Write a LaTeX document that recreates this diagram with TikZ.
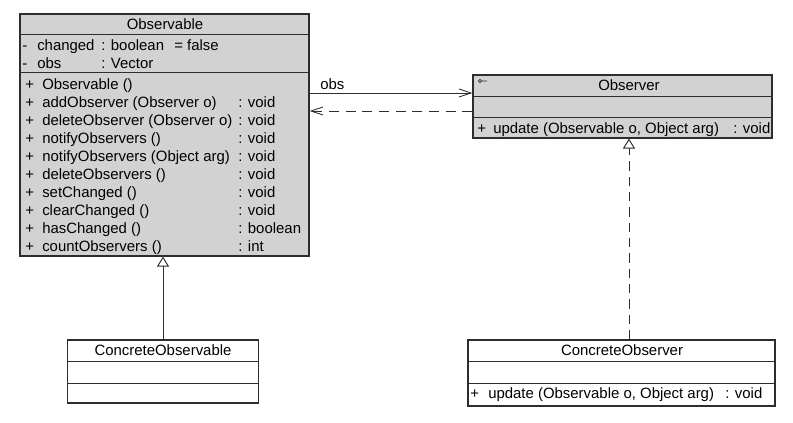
\documentclass[tikz,border=0pt]{standalone}
\usepackage{fontspec}
\setmainfont{Liberation Sans}
\usepackage{xcolor}
\definecolor{umlGray}{RGB}{210,210,210}
\definecolor{umlLine}{RGB}{45,45,45}
\usepackage{tikz}
\usetikzlibrary{positioning,arrows.meta,calc}
\tikzset{
  classbox/.style={rectangle,draw=umlLine,fill=umlGray,line width=0.8pt,
    inner sep=0pt},
  concretebox/.style={classbox,fill=white},
  member/.style={anchor=mid west,inner sep=0pt,text=black,yshift=-1.5pt,
    font=\fontsize{11.2}{13}\selectfont},
  title/.style={member,anchor=mid},
  compline/.style={draw=umlLine,line width=0.7pt},
  assoc/.style={-{Straight Barb[length=9pt,width=6pt]},draw=umlLine,line width=0.7pt},
  depend/.style={assoc,dash pattern=on 7.5pt off 5pt},
  inherit/.style={-{Triangle[open,length=7.5pt,width=9pt,fill=white]},
    draw=umlLine,line width=0.7pt},
  realize/.style={inherit,dash pattern=on 7pt off 4.5pt}
}
\newcommand{\vis}[1]{\makebox[12.75pt][l]{#1}}

\begin{document}
\begin{tikzpicture}[x=0.75pt,y=-0.75pt]
  \useasboundingbox (0,0) rectangle (793,422);

  % class boxes
  \node[classbox, minimum width=216.75pt, minimum height=181.5pt] (obsv) at (164.5,135) {};
  \node[classbox, minimum width=224.25pt, minimum height=47.25pt] (obsr) at (622.5,106.5) {};
  \node[concretebox, minimum width=143.25pt, minimum height=47.25pt] (cobsv) at (163,371.5) {};
  \node[concretebox, minimum width=230.25pt, minimum height=49.5pt] (cobsr) at (621.5,373) {};

  % compartments
  \foreach \cls/\ya/\yb in {obsv/34/72, obsr/96/117, cobsv/361/383, cobsr/361/383} {
    \draw[compline] (\cls.west |- 0,\ya) -- (\cls.east |- 0,\ya);
    \draw[compline] (\cls.west |- 0,\yb) -- (\cls.east |- 0,\yb);
  }

  % Observable
  \node[title] (obsvname) at (165,24) {Observable};
  \node[member] (attchg) at (22,45) {\makebox[11.25pt][l]{-}changed};
  \node[member] (attchgt) at (101,45) {: boolean};
  \node[member] (attchgv) at (174,45) {= false};
  \node[member] (attobs) at (22,63) {\makebox[11.25pt][l]{-}obs};
  \node[member] (attobst) at (101,63) {: Vector};
  \node[member] (op0) at (25,84) {\vis{+}Observable ()};
  \foreach \nm/\ty [count=\i] in {addObserver (Observer o)/void,
      deleteObserver (Observer o)/void, notifyObservers ()/void,
      notifyObservers (Object arg)/void, deleteObservers ()/void,
      setChanged ()/void, clearChanged ()/void, hasChanged ()/boolean,
      countObservers ()/int} {
    \node[member] (op\i) at (25,84+18*\i) {\vis{+}\nm};
    \node[member] (opt\i) at (238,84+18*\i) {: \ty};
  }

  % Observer
  \draw[umlLine,line width=0.6pt] (480,81) circle (1.6) (481.6,81) -- (487,81);
  \node[title] (obsrname) at (629,85) {Observer};
  \node[member] (upd) at (477,128) {\makebox[12pt][l]{+}update (Observable o, Object arg)};
  \node[member] (updt) at (733,128) {: void};

  % ConcreteObservable
  \node[title] (cobsvname) at (163,350) {ConcreteObservable};

  % ConcreteObserver
  \node[title] (cobsrname) at (622,350) {ConcreteObserver};
  \node[member] (cupd) at (470,393) {\makebox[13.5pt][l]{+}update (Observable o, Object arg)};
  \node[member] (cupdt) at (725,393) {: void};

  % relations
  \draw[assoc] (obsv.east |- 0,93) -- node[pos=0.14, above=2.2pt, inner sep=0pt,
    font=\fontsize{11.2}{13}\selectfont] (lblobs) {obs} (obsr.west |- 0,93);
  \draw[depend] (obsr.west |- 0,111) -- (obsv.east |- 0,111);
  \draw[inherit] (cobsv.north) -- (cobsv.north |- obsv.south);
  \draw[realize] (cobsr.north -| 629,0) -- (obsr.south -| 629,0);
\end{tikzpicture}
\end{document}
